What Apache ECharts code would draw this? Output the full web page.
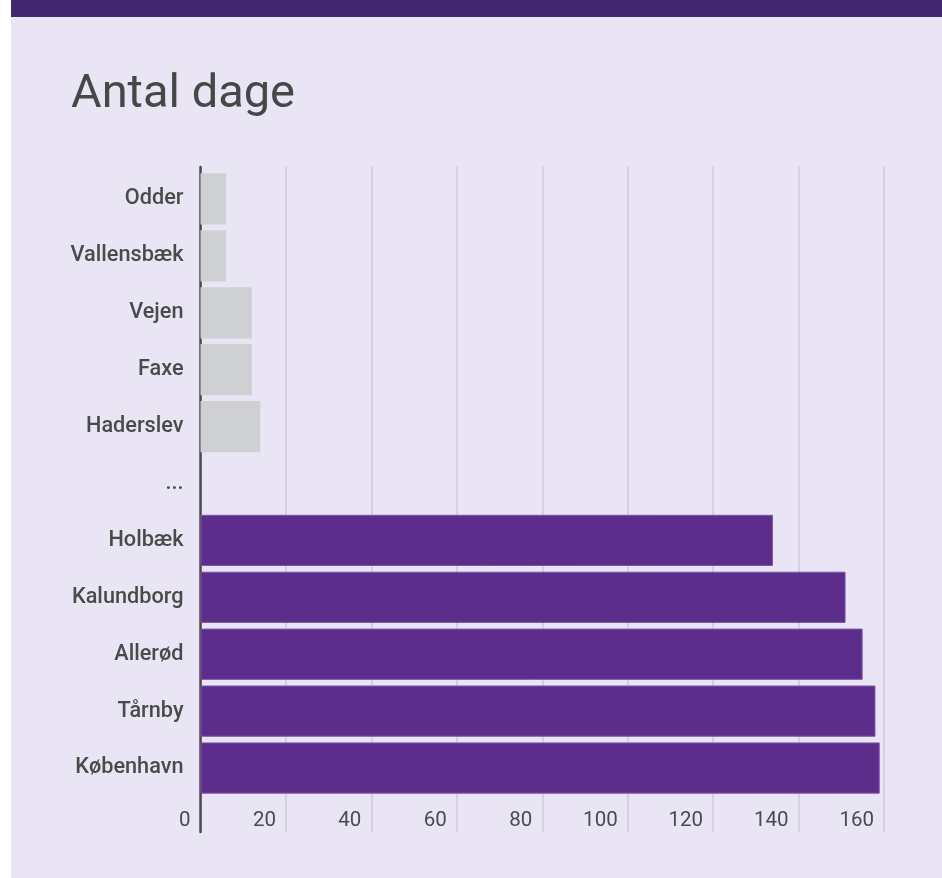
<!DOCTYPE html>
<html>
<head>
<meta charset="utf-8">
<script src="https://cdn.jsdelivr.net/npm/echarts@6/dist/echarts.min.js"></script>
<style>
    html, body { margin: 0; padding: 0; background: #ffffff; }
    #main { position: absolute; left: 11px; top: 0; width: 931px; height: 878px; }
</style>
</head>
<body>
<div id="main"></div>
<script>
// data
var categories = ['Odder', 'Vallensbæk', 'Vejen', 'Faxe', 'Haderslev', '...',
    'Holbæk', 'Kalundborg', 'Allerød', 'Tårnby', 'København'];
var days = [6, 6, 12, 12, 14, null, 134, 151, 155, 158, 159];
// 'low' = de fem laveste, 'high' = de fem højeste
var groups = ['low', 'low', 'low', 'low', 'low', 'none',
    'high', 'high', 'high', 'high', 'high'];
var xTicks = [0, 20, 40, 60, 80, 100, 120, 140, 160];

var groupColor = { low: '#cfd0d3', high: '#5c2d8a', none: 'transparent' };
var textColor = '#4a4a4a';
var font = 'Roboto, "Noto Sans", sans-serif';

var chart = echarts.init(document.getElementById('main'), null, { renderer: 'canvas' });

var barData = days.map(function (v, i) {
    return {
        value: v,
        itemStyle: {
            color: groupColor[groups[i]],
            borderColor: groups[i] === 'high' ? '#7d55a8' : groupColor[groups[i]],
            borderWidth: groups[i] === 'high' ? 1 : 0
        }
    };
});

var option = {
    backgroundColor: '#e9e5f5',
    animation: false,
    graphic: [{
        type: 'rect',
        shape: { x: 0, y: 0, width: 931, height: 17 },
        style: { fill: '#42266e' },
        z: 100
    }],
    title: {
        text: 'Antal dage',
        left: 55,
        top: 67,
        textStyle: { fontFamily: font, fontSize: 47, fontWeight: 'normal', color: '#474747' }
    },
    grid: [
        // grid for the axis line and the vertical gridlines
        { left: 189.5, right: 58, top: 167, bottom: 46 },
        // grid for the bars
        { left: 189.5, right: 58, top: 170.5, bottom: 81.5 }
    ],
    xAxis: [{
        gridIndex: 0,
        type: 'value',
        min: xTicks[0],
        max: xTicks[xTicks.length - 1],
        interval: xTicks[1] - xTicks[0],
        axisLine: { show: false },
        axisTick: { show: false },
        splitLine: { show: true, lineStyle: { color: '#cdc8d8', width: 1.5 } },
        axisLabel: {
            inside: true,
            margin: 1,
            align: 'right',
            padding: [0, 10, 0, 0],
            fontFamily: font,
            fontSize: 20.5,
            color: textColor,
            showMinLabel: true,
            showMaxLabel: true
        }
    }, {
        gridIndex: 1,
        type: 'value',
        min: xTicks[0],
        max: xTicks[xTicks.length - 1],
        show: false
    }],
    yAxis: [{
        gridIndex: 0,
        type: 'value',
        axisLine: { show: true, lineStyle: { color: '#4a4a4a', width: 2.5 } },
        axisTick: { show: false },
        axisLabel: { show: false },
        splitLine: { show: false }
    }, {
        gridIndex: 1,
        type: 'category',
        inverse: true,
        data: categories,
        axisLine: { show: false },
        axisTick: { show: false },
        axisLabel: {
            margin: 17,
            padding: [4, 0, 0, 0],
            fontFamily: font,
            fontSize: 21.7,
            fontWeight: 500,
            color: textColor
        }
    }],
    series: [{
        type: 'bar',
        xAxisIndex: 1,
        yAxisIndex: 1,
        data: barData,
        barCategoryGap: '10%',
        z: 3
    }]
};

chart.setOption(option);
</script>
</body>
</html>
